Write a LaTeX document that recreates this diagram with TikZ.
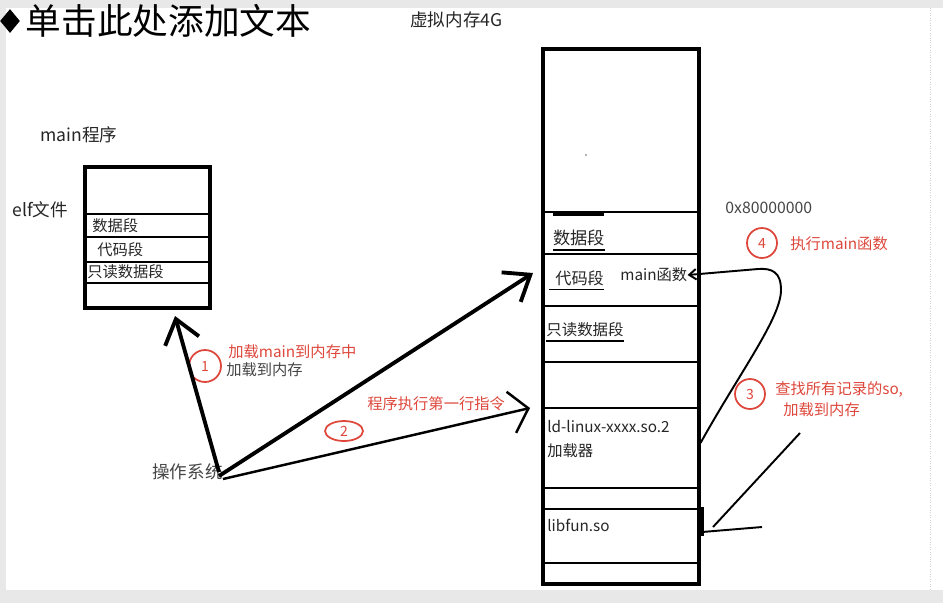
\documentclass[tikz,border=0pt]{standalone}
\usepackage{fontspec}
\setmainfont{Noto Sans CJK SC}
\usepackage{xcolor}
\usepackage{tikz}
\usetikzlibrary{arrows.meta,positioning,shapes.geometric}

\definecolor{redink}{RGB}{222,72,60}
\definecolor{inkgray}{RGB}{70,70,70}
\newdimen\pxu
\pxu=0.02cm

\begin{document}
\begin{tikzpicture}[
    x=0.02cm, y=-0.02cm,
    frame/.style={draw, line width=2pt, anchor=north west, inner sep=0pt},
    sep/.style={line width=1.1pt},
    uline/.style={line width=0.8pt},
    lbl/.style={anchor=west, inner sep=0pt, text=black!85, font=\fontsize{8.7}{10}\selectfont},
    biglbl/.style={lbl, font=\fontsize{10}{12}\selectfont},
    note/.style={lbl, text=redink},
    num/.style={draw=redink, circle, line width=1pt, inner sep=0pt, minimum size=30\pxu,
                text=redink, font=\fontsize{8}{9}\selectfont},
    arr/.style={line width=2.2pt, -{Straight Barb[length=13pt, width=20pt]}},
    tarr/.style={line width=1.4pt, -{Straight Barb[length=10pt, width=24pt]}},
    pen/.style={line width=1.1pt}
]
    % Slide background
    \fill[black!9] (0,0) rectangle (943,603);
    \fill[white] (6,8) rectangle (943,590);
    \draw[black!18, densely dotted] (930,8) -- (930,590);

    % Title
    \node[diamond, fill=black, inner sep=0pt, minimum width=20\pxu, minimum height=24\pxu] (bullet) at (10,21) {};
    \node[right=5\pxu of bullet, inner sep=0pt, font=\fontsize{20.3}{24}\selectfont] (title) {单击此处添加文本};
    \node[biglbl] (vtitle) at (410,20) {虚拟内存4G};

    % ELF file
    \node[biglbl] (mainprog) at (40,135) {main程序};
    \node[biglbl] (elftag) at (12,210) {elf文件};
    \node[frame, minimum width=125\pxu, minimum height=141\pxu] (elf) at (83,165) {};
    \foreach \y in {214,237,262,283}
        \draw[sep] (elf.west |- 0,\y) -- (elf.east |- 0,\y);
    \node[lbl] (edata) at (92,226) {数据段};
    \node[lbl] (ecode) at (97,250) {代码段};
    \node[lbl] (erodata) at (87,272) {只读数据段};

    % Virtual memory
    \node[frame, minimum width=156\pxu, minimum height=535\pxu] (vmem) at (541,47) {};
    \foreach \y in {212,254,306,362,408,488,509,563}
        \draw[sep] (vmem.west |- 0,\y) -- (vmem.east |- 0,\y);
    \fill (553,212) rectangle (604,216);
    \fill[black!60] (586,155) circle (0.5pt);

    \node[lbl, font=\fontsize{9.8}{12}\selectfont] (vdata) at (553,238) {数据段};
    \draw[uline] ([yshift=-2pt]vdata.south west) -- ([yshift=-2pt]vdata.south east);
    \node[lbl, font=\fontsize{9.2}{11}\selectfont] (vcode) at (555,278) {代码段};
    \draw[uline] ([xshift=-6\pxu,yshift=-2pt]vcode.south west) -- ([yshift=-2pt]vcode.south east);
    \node[lbl, font=\fontsize{8.8}{11}\selectfont] (vrodata) at (546,330) {只读数据段};
    \draw[uline] ([yshift=-2pt]vrodata.south west) -- ([yshift=-2pt]vrodata.south east);
    \node[lbl] (mainfn) at (620,275) {main函数};
    \node[lbl] (ldso) at (547,427) {ld-linux-xxxx.so.2};
    \node[lbl] (loader) at (547,451) {加载器};
    \node[lbl] (libfun) at (547,525) {libfun.so};

    % Steps on the right
    \node[lbl, text=inkgray, font=\fontsize{9}{11}\selectfont] (addr) at (725,208) {0x80000000};
    \node[num] (n4) at (762,243) {4};
    \node[note] (step4) at (790,244) {执行main函数};
    \node[num] (n3) at (750,394) {3};
    \node[note] (step3a) at (775,389) {查找所有记录的so,};
    \node[note] (step3b) at (783,410) {加载到内存};

    % Steps on the left
    \node[num, minimum size=32\pxu] (n1) at (205,366) {1};
    \node[note] (step1a) at (228,352) {加载main到内存中};
    \node[lbl, text=inkgray] (step1b) at (226,370) {加载到内存};
    \node[num, ellipse, minimum width=38\pxu, minimum height=20\pxu] (n2) at (344,431) {2};
    \node[note] (step2) at (367,404) {程序执行第一行指令};
    \node[biglbl, text=inkgray] (os) at (152,472) {操作系统};

    % Arrows
    \coordinate (elfin) at (175,316);
    \coordinate (codein) at (533,273);
    \coordinate (ldin) at (530,408);
    \draw[arr] ([xshift=-4\pxu]os.east) -- (elfin);
    \draw[arr] ([xshift=-4\pxu,yshift=-4\pxu]os.east) -- (codein);
    \draw[tarr] ([yshift=-7\pxu]os.east) -- (ldin);

    \draw[pen, -{Straight Barb[length=4pt, width=6pt]}] (vmem.east |- 0,443)
        .. controls (740,372) and (781,318) .. (781,290)
        .. controls (781,272) and (772,268) .. (758,269) -- (mainfn.east);

    \coordinate (libin) at (702,532);
    \coordinate (libtail) at (800,433);
    \coordinate (libtail2) at (762,527);
    \draw[pen] (libtail) -- ([xshift=11\pxu,yshift=5\pxu]libin);
    \draw[pen] (libtail2) -- (libin);
    \draw[line width=2pt] ([yshift=25\pxu]libin) -- ([yshift=-4\pxu]libin);
\end{tikzpicture}
\end{document}
